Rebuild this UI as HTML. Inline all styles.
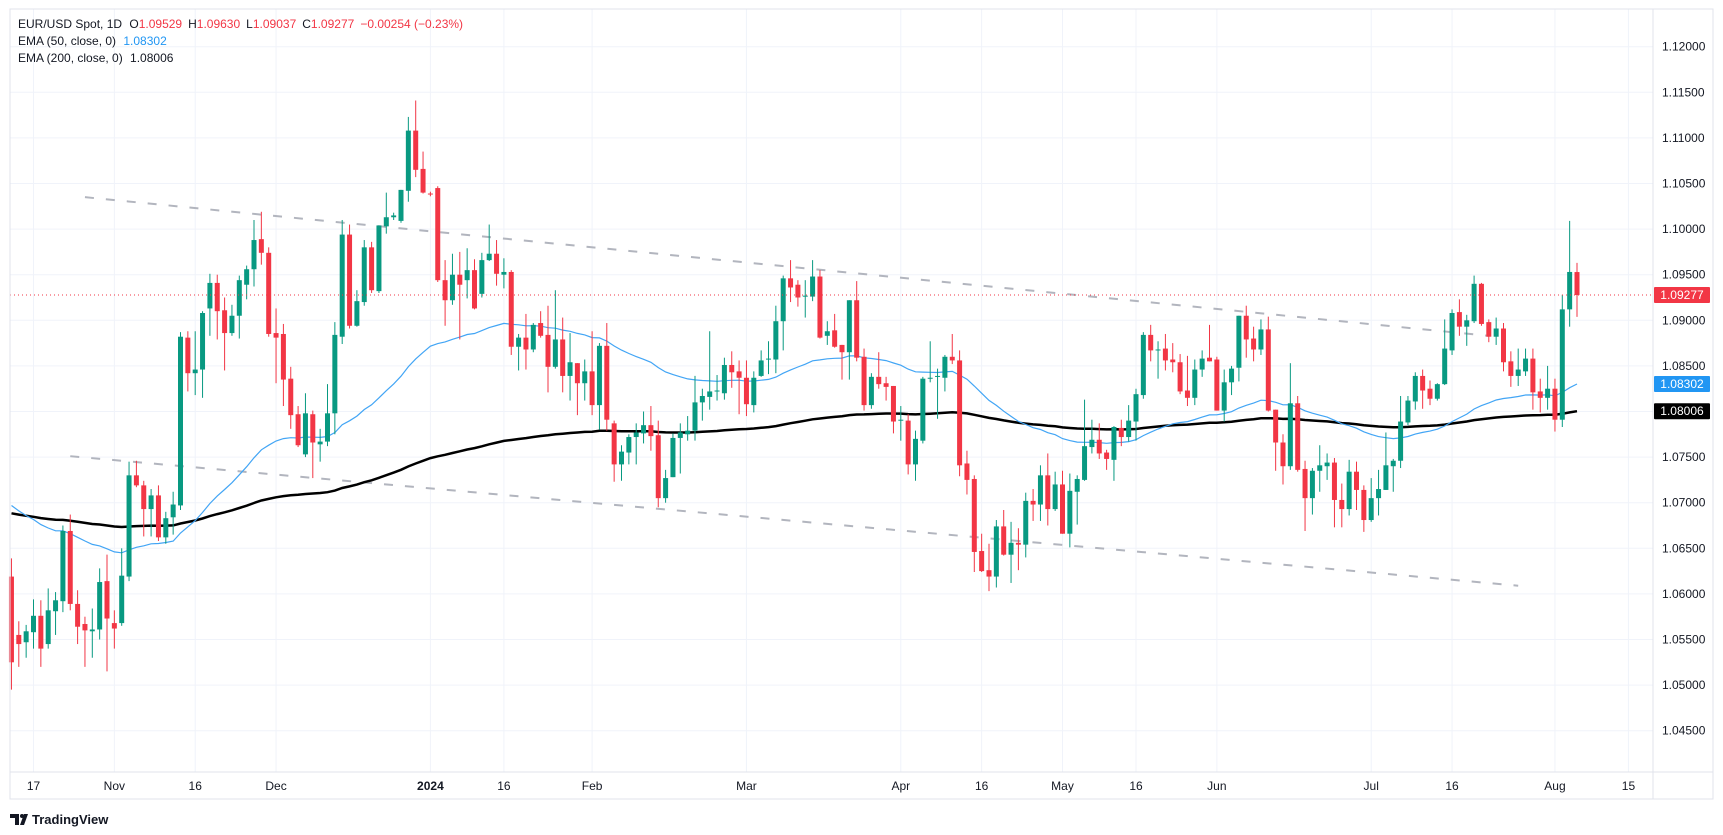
<!DOCTYPE html>
<html><head><meta charset="utf-8"><style>
html,body{margin:0;padding:0;background:#fff;}
svg{display:block;font-family:"Liberation Sans",sans-serif;}
</style></head><body>
<svg id="chart" width="1723" height="835" viewBox="0 0 1723 835" xmlns="http://www.w3.org/2000/svg">
<rect x="0" y="0" width="1723" height="835" fill="#ffffff"/>
<g id="grid"></g>
<g id="trend"></g>
<g id="emas"></g>
<g id="candles"></g>
<line id="lastline" x1="10" x2="1653" stroke="#f23645" stroke-width="1" stroke-dasharray="1 3"/>
<rect x="10" y="9" width="1703" height="790" fill="none" stroke="#e0e3eb" stroke-width="1"/>
<line x1="1653" y1="9" x2="1653" y2="799" stroke="#e0e3eb"/>
<line x1="10" y1="772" x2="1713" y2="772" stroke="#e0e3eb"/>
<g id="yaxis"></g>
<g id="xaxis"></g>
<g id="tags"></g>
<g font-size="12" fill="#131722">
<text x="18" y="28">EUR/USD Spot, 1D <tspan dx="4">O</tspan><tspan fill="#f23645">1.09529</tspan><tspan dx="6">H</tspan><tspan fill="#f23645">1.09630</tspan><tspan dx="6">L</tspan><tspan fill="#f23645">1.09037</tspan><tspan dx="6">C</tspan><tspan fill="#f23645">1.09277</tspan><tspan dx="6" fill="#f23645">−0.00254 (−0.23%)</tspan></text>
<text x="18" y="45">EMA (50, close, 0) <tspan dx="4" fill="#2196f3">1.08302</tspan></text>
<text x="18" y="62">EMA (200, close, 0) <tspan dx="4">1.08006</tspan></text>
</g>
<g>
<path d="M10 814 h9 v11 h-4 v-7 h-5 z M20 825 l4 -11 h4 l-4 11 z" fill="#131722"/>
<circle cx="22" cy="816" r="2" fill="#131722"/>
<text x="32" y="824" font-size="13" font-weight="bold" fill="#131722">TradingView</text>
</g>
</svg>
<script>
const opens=[1.0619,1.0555,1.0547,1.0558,1.0576,1.0545,1.0581,1.0592,1.0669,1.0589,1.0567,1.0559,1.0561,1.0614,1.0568,1.0568,1.0619,1.0730,1.0719,1.0693,1.0708,1.0662,1.0684,1.0697,1.0881,1.0842,1.0846,1.0913,1.0941,1.0911,1.0886,1.0905,1.0939,1.0956,1.0989,1.0974,1.0886,1.0885,1.0836,1.0797,1.0753,1.0797,1.0764,1.0767,1.0798,1.0882,1.0994,1.0894,1.0920,1.0980,1.0932,1.1003,1.1013,1.1009,1.1042,1.1108,1.1066,1.1039,1.1045,1.0944,1.0922,1.0950,1.0944,1.0955,1.0929,1.0966,1.0973,1.0950,1.0953,1.0871,1.0881,1.0868,1.0897,1.0884,1.0849,1.0879,1.0839,1.0853,1.0831,1.0844,1.0807,1.0872,1.0787,1.0742,1.0755,1.0772,1.0776,1.0785,1.0774,1.0705,1.0728,1.0771,1.0775,1.0779,1.0810,1.0816,1.0822,1.0820,1.0851,1.0844,1.0837,1.0807,1.0839,1.0857,1.0857,1.0899,1.0946,1.0939,1.0926,1.0926,1.0948,1.0883,1.0889,1.0873,1.0865,1.0922,1.0860,1.0807,1.0838,1.0831,1.0828,1.0790,1.0790,1.0742,1.0768,1.0836,1.0838,1.0837,1.0860,1.0856,1.0743,1.0726,1.0647,1.0626,1.0619,1.0674,1.0643,1.0656,1.0654,1.0702,1.0698,1.0730,1.0693,1.0720,1.0666,1.0712,1.0725,1.0761,1.0769,1.0755,1.0747,1.0782,1.0772,1.0789,1.0818,1.0884,1.0867,1.0869,1.0857,1.0854,1.0823,1.0815,1.0846,1.0859,1.0857,1.0801,1.0832,1.0848,1.0905,1.0880,1.0868,1.0890,1.0802,1.0766,1.0740,1.0809,1.0737,1.0705,1.0735,1.0740,1.0744,1.0703,1.0693,1.0734,1.0714,1.0681,1.0705,1.0714,1.0740,1.0746,1.0788,1.0811,1.0839,1.0825,1.0814,1.0830,1.0867,1.0909,1.0893,1.0899,1.0940,1.0898,1.0882,1.0891,1.0855,1.0839,1.0844,1.0858,1.0822,1.0815,1.0825,1.0791,1.0912,1.09529];
const highs=[1.0639,1.0570,1.0566,1.0594,1.0593,1.0606,1.0602,1.0675,1.0687,1.0604,1.0575,1.0584,1.0628,1.0643,1.0582,1.0650,1.0745,1.0746,1.0724,1.0715,1.0719,1.0690,1.0712,1.0887,1.0888,1.0888,1.0910,1.0951,1.0950,1.0925,1.0917,1.0949,1.0960,1.1010,1.1019,1.0980,1.0913,1.0896,1.0849,1.0806,1.0820,1.0801,1.0781,1.0830,1.0898,1.1010,1.1005,1.0933,1.0988,1.0986,1.1004,1.1040,1.1018,1.1043,1.1123,1.1141,1.1085,1.1041,1.1047,1.0966,1.0973,1.0975,1.0979,1.0967,1.0974,1.1005,1.0988,1.0968,1.0955,1.0885,1.0907,1.0897,1.0910,1.0916,1.0933,1.0903,1.0886,1.0853,1.0857,1.0888,1.0875,1.0897,1.0790,1.0763,1.0775,1.0787,1.0800,1.0806,1.0790,1.0736,1.0776,1.0787,1.0795,1.0839,1.0825,1.0888,1.0840,1.0859,1.0866,1.0856,1.0856,1.0844,1.0867,1.0877,1.0916,1.0949,1.0966,1.0944,1.0944,1.0966,1.0955,1.0899,1.0907,1.0873,1.0922,1.0943,1.0869,1.0842,1.0865,1.0838,1.0828,1.0806,1.0797,1.0779,1.0838,1.0877,1.0847,1.0862,1.0885,1.0867,1.0757,1.0730,1.0666,1.0655,1.0681,1.0692,1.0679,1.0672,1.0711,1.0715,1.0741,1.0754,1.0734,1.0735,1.0732,1.0730,1.0813,1.0791,1.0787,1.0758,1.0784,1.0791,1.0807,1.0825,1.0887,1.0895,1.0877,1.0885,1.0875,1.0863,1.0861,1.0857,1.0867,1.0895,1.0860,1.0846,1.0850,1.0905,1.0916,1.0893,1.0901,1.0904,1.0802,1.0775,1.0853,1.0817,1.0746,1.0738,1.0763,1.0754,1.0749,1.0721,1.0747,1.0745,1.0719,1.0727,1.0736,1.0777,1.0748,1.0817,1.0817,1.0843,1.0846,1.0834,1.0831,1.0901,1.0912,1.0923,1.0906,1.0949,1.0941,1.0901,1.0903,1.0897,1.0866,1.0869,1.0869,1.0869,1.0836,1.0850,1.0836,1.0928,1.1009,1.0963];
const lows=[1.0495,1.0520,1.0530,1.0540,1.0520,1.0540,1.0555,1.0580,1.0582,1.0545,1.0520,1.0530,1.0550,1.0515,1.0540,1.0565,1.0614,1.0717,1.0663,1.0663,1.0658,1.0655,1.0665,1.0692,1.0822,1.0818,1.0815,1.0883,1.0879,1.0845,1.0883,1.0880,1.0923,1.0937,1.0961,1.0882,1.0831,1.0806,1.0781,1.0761,1.0750,1.0727,1.0745,1.0762,1.0775,1.0874,1.0891,1.0893,1.0916,1.0930,1.0930,1.0995,1.1010,1.1007,1.1030,1.1057,1.1039,1.1036,1.0942,1.0894,1.0917,1.0879,1.0924,1.0912,1.0925,1.0965,1.0938,1.0935,1.0862,1.0845,1.0846,1.0865,1.0881,1.0821,1.0847,1.0821,1.0812,1.0796,1.0812,1.0796,1.0780,1.0779,1.0723,1.0724,1.0742,1.0742,1.0765,1.0757,1.0695,1.0700,1.0728,1.0732,1.0768,1.0768,1.0790,1.0802,1.0812,1.0813,1.0826,1.0797,1.0795,1.0799,1.0838,1.0841,1.0842,1.0867,1.0920,1.0915,1.0903,1.0921,1.0880,1.0873,1.0870,1.0835,1.0835,1.0855,1.0801,1.0803,1.0825,1.0812,1.0776,1.0768,1.0731,1.0724,1.0765,1.0832,1.0792,1.0822,1.0852,1.0729,1.0709,1.0624,1.0624,1.0603,1.0607,1.0642,1.0612,1.0626,1.0640,1.0680,1.0680,1.0675,1.0691,1.0666,1.0651,1.0676,1.0724,1.0754,1.0748,1.0736,1.0724,1.0762,1.0767,1.0768,1.0814,1.0855,1.0836,1.0845,1.0843,1.0819,1.0806,1.0807,1.0838,1.0855,1.0801,1.0789,1.0818,1.0833,1.0859,1.0855,1.0862,1.0800,1.0735,1.0720,1.0736,1.0734,1.0669,1.0687,1.0712,1.0725,1.0673,1.0673,1.0686,1.0692,1.0668,1.0679,1.0686,1.0714,1.0712,1.0738,1.0785,1.0802,1.0803,1.0807,1.0812,1.0829,1.0862,1.0883,1.0872,1.0897,1.0894,1.0876,1.0873,1.0844,1.0827,1.0828,1.0839,1.0802,1.0799,1.0802,1.0778,1.0783,1.0893,1.09037];
const closes=[1.0525,1.0545,1.0559,1.0576,1.0540,1.0582,1.0593,1.0669,1.0589,1.0564,1.0560,1.0561,1.0613,1.0573,1.0562,1.0620,1.0730,1.0719,1.0693,1.0708,1.0662,1.0683,1.0698,1.0882,1.0842,1.0846,1.0908,1.0941,1.0910,1.0886,1.0905,1.0944,1.0956,1.0988,1.0974,1.0885,1.0881,1.0835,1.0796,1.0763,1.0798,1.0766,1.0767,1.0798,1.0884,1.0994,1.0894,1.0921,1.0980,1.0933,1.1004,1.1013,1.1015,1.1043,1.1108,1.1065,1.1040,1.1038,1.0944,1.0922,1.0950,1.0939,1.0955,1.0913,1.0966,1.0973,1.0951,1.0953,1.0871,1.0881,1.0868,1.0895,1.0883,1.0849,1.0879,1.0839,1.0854,1.0831,1.0844,1.0807,1.0872,1.0791,1.0742,1.0756,1.0772,1.0777,1.0785,1.0773,1.0705,1.0727,1.0771,1.0777,1.0779,1.0810,1.0817,1.0822,1.0823,1.0851,1.0843,1.0837,1.0808,1.0837,1.0856,1.0858,1.0899,1.0946,1.0936,1.0925,1.0927,1.0948,1.0881,1.0888,1.0871,1.0865,1.0922,1.0859,1.0807,1.0838,1.0830,1.0827,1.0789,1.0791,1.0742,1.0770,1.0836,1.0837,1.0839,1.0860,1.0856,1.0741,1.0725,1.0646,1.0625,1.0619,1.0674,1.0643,1.0656,1.0654,1.0702,1.0698,1.0730,1.0693,1.0720,1.0666,1.0713,1.0726,1.0762,1.0769,1.0754,1.0748,1.0783,1.0772,1.0790,1.0819,1.0884,1.0867,1.0868,1.0856,1.0854,1.0822,1.0815,1.0846,1.0858,1.0855,1.0801,1.0832,1.0847,1.0905,1.0879,1.0868,1.0890,1.0801,1.0766,1.0740,1.0809,1.0736,1.0705,1.0735,1.0741,1.0744,1.0703,1.0693,1.0734,1.0714,1.0681,1.0705,1.0715,1.0741,1.0746,1.0789,1.0812,1.0839,1.0823,1.0814,1.0830,1.0869,1.0908,1.0893,1.0900,1.0940,1.0896,1.0882,1.0891,1.0854,1.0839,1.0846,1.0858,1.0821,1.0815,1.0825,1.0791,1.0912,1.0953,1.09277];
const priceTicks=[1.045,1.05,1.055,1.06,1.065,1.07,1.075,1.08,1.085,1.09,1.095,1.10,1.105,1.11,1.115,1.12];
const timeLabels=["17","Nov","16","Dec","2024","16","Feb","Mar","Apr","16","May","16","Jun","Jul","16","Aug","15"];
const timeLabelBars=[3,14,25,36,57,67,79,100,121,132,143,153,164,185,196,210,220];
const emaSeed50=1.0704, emaSeed200=1.0690;
const emaLabels=[1.08302,1.08006];
const upperTrend=[[10,1.1035],[201,1.0883]];
const lowerTrend=[[8,1.0751],[205,1.0609]];
const lastPrice=1.09277;

const NS="http://www.w3.org/2000/svg";
const N=closes.length;
function xOf(i){return 1577-(N-1-i)*7.35;}
function yOf(p){return 92.3+(1.115-p)*9120;}
function mk(tag,attrs,parent){const e=document.createElementNS(NS,tag);for(const k in attrs)e.setAttribute(k,attrs[k]);parent.appendChild(e);return e;}

const grid=document.getElementById('grid');
priceTicks.forEach(p=>{
  const l=mk('line',{x1:10,x2:1653,y1:yOf(p),y2:yOf(p),stroke:'#f0f3fa','stroke-width':1},grid);
  
  
});
timeLabelBars.forEach(b=>{
  const l=mk('line',{x1:xOf(b),x2:xOf(b),y1:9,y2:772,stroke:'#f0f3fa','stroke-width':1},grid);
  
  
});

const trend=document.getElementById('trend');
[upperTrend,lowerTrend].forEach((t,k)=>{
  const l=mk('line',{x1:xOf(t[0][0]),y1:yOf(t[0][1]),x2:xOf(t[1][0]),y2:yOf(t[1][1]),stroke:'#b2b5be','stroke-width':2,'stroke-dasharray':'9 12'},trend);
  
  
});

function ema(seed,n){const k=2/(n+1);let v=seed;return closes.map(c=>{v=c*k+v*(1-k);return v;});}
const e50=ema(emaSeed50,50), e200=ema(emaSeed200,200);
const emas=document.getElementById('emas');
function path(arr){return arr.map((v,i)=>(i?'L':'M')+xOf(i).toFixed(1)+' '+yOf(v).toFixed(1)).join(' ');}
const p200=mk('path',{d:path(e200),fill:'none',stroke:'#000000','stroke-width':2.5},emas);


const p50=mk('path',{d:path(e50),fill:'none',stroke:'#42a5f5','stroke-width':1.2},emas);



const cg=document.getElementById('candles');
for(let i=0;i<N;i++){
  const up=closes[i]>=opens[i];const col=up?'#089981':'#f23645';
  const x=xOf(i);
  const g=mk('g',{},cg);
  
  
  mk('line',{x1:x,x2:x,y1:yOf(highs[i]),y2:yOf(lows[i]),stroke:col,'stroke-width':1},g);
  const yt=yOf(Math.max(opens[i],closes[i])),yb=yOf(Math.min(opens[i],closes[i]));
  mk('rect',{x:x-2.5,y:yt,width:5,height:Math.max(1,yb-yt),fill:col},g);
}

const ll=document.getElementById('lastline');
ll.setAttribute('y1',yOf(lastPrice));ll.setAttribute('y2',yOf(lastPrice));

const ya=document.getElementById('yaxis');
const tagVals=[lastPrice,e50[N-1],e200[N-1]];
const tagTexts=[lastPrice,emaLabels[0],emaLabels[1]];
priceTicks.forEach(p=>{
  const y=yOf(p);
  if(tagVals.some(v=>Math.abs(yOf(v)-y)<12))return;
  const t=mk('text',{x:1662,y:y+4,'font-size':12,fill:'#131722'},ya);
  t.textContent=p.toFixed(5);
  
  
});
const xa=document.getElementById('xaxis');
timeLabels.forEach((s,k)=>{
  const t=mk('text',{x:xOf(timeLabelBars[k]),y:790,'font-size':12,fill:'#131722','text-anchor':'middle'},xa);
  if(s==='2024')t.setAttribute('font-weight','bold');
  t.textContent=s;
  
  
});

const tags=document.getElementById('tags');
const tagCols=['#f23645','#2196f3','#000000'];
const tagNames=['last-price-tag','ema50-tag','ema200-tag'];
tagVals.forEach((v,k)=>{
  const y=yOf(v);
  const g=mk('g',{},tags);
  
  
  mk('rect',{x:1654,y:y-8,width:56,height:16,fill:tagCols[k],rx:1},g);
  const t=mk('text',{x:1682,y:y+4,'font-size':12,fill:'#ffffff','text-anchor':'middle'},g);
  t.textContent=tagTexts[k].toFixed(5);
});
</script>
</body></html>
